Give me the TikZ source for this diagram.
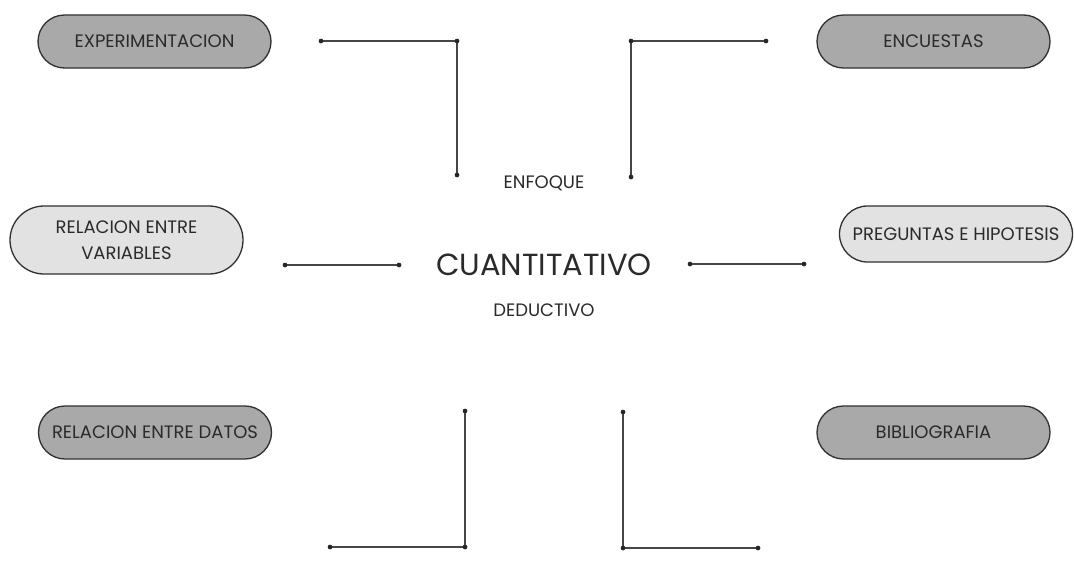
\documentclass[tikz,border=0pt]{standalone}
\usepackage{fontspec}
\setmainfont{Poppins}
\usetikzlibrary{shapes.misc}
\definecolor{darkbox}{HTML}{A9A9A9}
\definecolor{lightbox}{HTML}{E2E2E2}
\definecolor{edge}{HTML}{303030}
\definecolor{txt}{HTML}{2A2A2A}
\tikzset{
  pill/.style={rounded rectangle, draw=edge, line width=1.3pt, minimum width=233pt, text=txt, font=\fontsize{18}{26.5}\selectfont, align=center, inner sep=0pt},
  darkpill/.style={pill, fill=darkbox, minimum height=53pt},
  lightpill/.style={pill, fill=lightbox},
  conn/.style={draw=edge!90, line width=1.1pt},
  dot/.style={circle, fill=black!85, inner sep=0pt, minimum size=4.5pt},
  lab/.style={text=txt, font=\fontsize{18}{22}\selectfont}
}
\begin{document}
\begin{tikzpicture}[x=1pt,y=-1pt]
\useasboundingbox (0,0) rectangle (1074,587);
\fill[white] (0,0) rectangle (1074,587);
% boxes
\node[darkpill] (exp) at (154.5,41.5) {EXPERIMENTACION};
\node[darkpill] (enc) at (933.5,41.5) {ENCUESTAS};
\node[lightpill, minimum height=68pt] (rv) at (126.5,240) {RELACION ENTRE\\VARIABLES};
\node[lightpill, minimum height=56pt] (ph) at (956,234) {PREGUNTAS E HIPOTESIS};
\node[darkpill] (rd) at (155,432.5) {RELACION ENTRE DATOS};
\node[darkpill] (bib) at (933.5,432.5) {BIBLIOGRAFIA};
% center texts
\node[lab] (enf) at (544,183) {ENFOQUE};
\node[text=txt, font=\fontsize{30.5}{34}\selectfont] (cuant) at (544,265) {CUANTITATIVO};
\node[lab] (ded) at (544,310) {DEDUCTIVO};
% connector points
\node[dot] (a1) at (321,41) {};
\node[dot] (a2) at (457,41) {};
\node[dot] (a3) at (457,175) {};
\node[dot] (b1) at (766,41) {};
\node[dot] (b2) at (631,41) {};
\node[dot] (b3) at (631,177) {};
\node[dot] (c1) at (285,265) {};
\node[dot] (c2) at (399,265) {};
\node[dot] (d1) at (690,264) {};
\node[dot] (d2) at (804,264) {};
\node[dot] (e1) at (465,411) {};
\node[dot] (e2) at (465,547) {};
\node[dot] (e3) at (330,547) {};
\node[dot] (f1) at (623,412) {};
\node[dot] (f2) at (623,548) {};
\node[dot] (f3) at (758,548) {};
\draw[conn] (a1.center) -- (a2.center) -- (a3.center);
\draw[conn] (b1.center) -- (b2.center) -- (b3.center);
\draw[conn] (c1.center) -- (c2.center);
\draw[conn] (d1.center) -- (d2.center);
\draw[conn] (e1.center) -- (e2.center) -- (e3.center);
\draw[conn] (f1.center) -- (f2.center) -- (f3.center);
\foreach \n in {a1,a2,a3,b1,b2,b3,c1,c2,d1,d2,e1,e2,e3,f1,f2,f3} \node[dot] at (\n) {};
\end{tikzpicture}
\end{document}
